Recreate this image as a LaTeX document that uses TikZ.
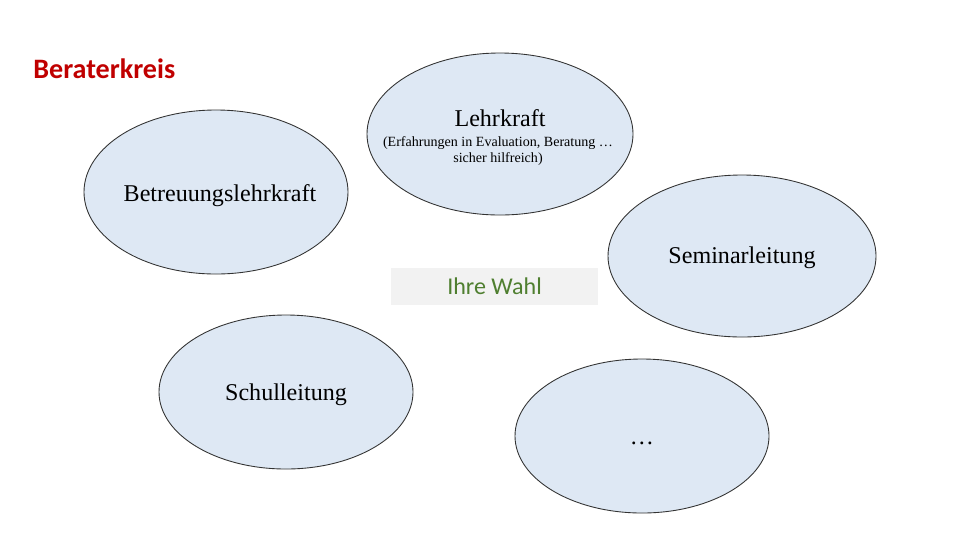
\documentclass[tikz,border=0pt]{standalone}
\usepackage{fontspec}
\setmainfont{Liberation Serif}
\newfontfamily\calibri{Carlito}
\usepackage{xcolor}
\usetikzlibrary{positioning,shapes.geometric}
\definecolor{bubblefill}{HTML}{DEE8F4}
\definecolor{titlered}{HTML}{C00000}
\definecolor{wahlgreen}{HTML}{4F7F30}
\definecolor{wahlgray}{HTML}{F2F2F2}

\begin{document}
\begin{tikzpicture}[x=0.2mm, y=-0.2mm,
		bubble/.style={ellipse, draw=black!80, line width=0.5pt, fill=bubblefill, inner sep=0pt,
			minimum width=53.2mm, minimum height=32.4mm},
		smallbubble/.style={bubble, minimum width=50.8mm, minimum height=30.8mm},
		bubbletext/.style={inner sep=0pt, font=\fontsize{13.7}{16}\selectfont}]
			\useasboundingbox (0,0) rectangle (960,540);
			\node [anchor=west, inner sep=0pt, text=titlered, font=\calibri\bfseries\fontsize{16}{18}\selectfont] (title) at (33,69) {Beraterkreis};
			% Ellipsen
			\node [bubble] (lehrkraft) at (500,134) {};
			\node [bubble, minimum width=52.8mm, minimum height=32.8mm] (betreuung) at (216,192) {};
			\node [bubble, minimum width=53.6mm] (seminar) at (742,256) {};
			\node [smallbubble] (schul) at (286,392) {};
			\node [smallbubble] (weitere) at (642,436) {};
			% Beschriftungen
			\node [bubbletext] (lehrkraft text) at (500,118) {Lehrkraft};
			\node [inner sep=0pt, align=center, font=\fontsize{8}{9}\selectfont] (lehrkraft note) at (498,151)
				{(Erfahrungen in Evaluation, Beratung \dots\\ sicher hilfreich)};
			\node [bubbletext] (betreuung text) at (220,196) {Betreuungslehrkraft};
			\node [bubbletext] (seminar text) at (742,258) {Seminarleitung};
			\node [bubbletext] (schul text) at (286,395) {Schulleitung};
			\node [bubbletext] (weitere text) at (642,443) {\dots};
			\node [fill=wahlgray, minimum width=41.4mm, minimum height=7.4mm, text=wahlgreen,
				font=\calibri\fontsize{13.7}{16}\selectfont] (wahl) at (494.5,286.5) {\raisebox{-0.4mm}{Ihre Wahl}};
		\end{tikzpicture}
\end{document}
